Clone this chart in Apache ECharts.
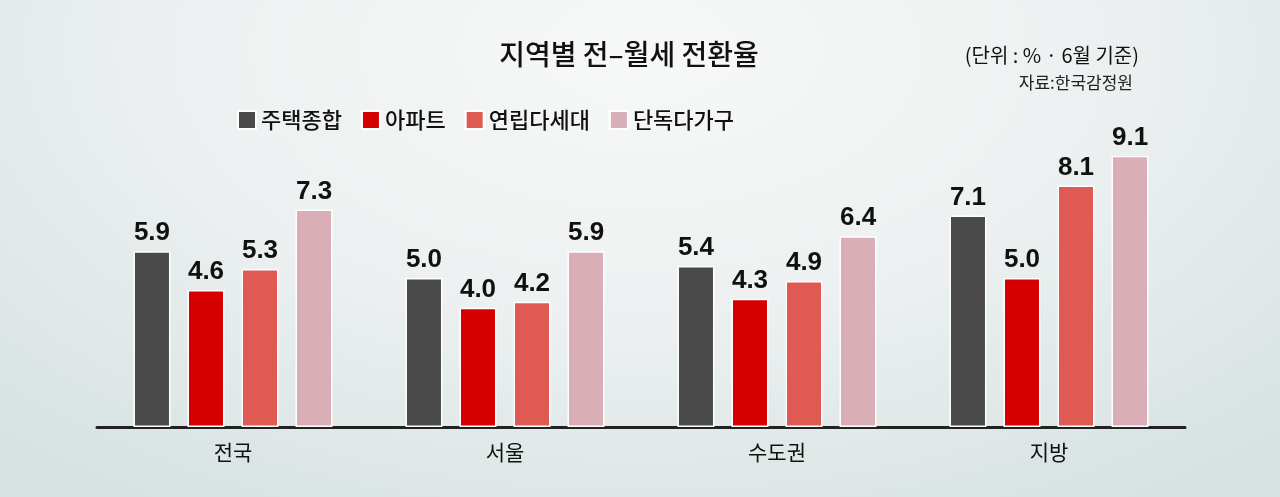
<!DOCTYPE html>
<html><head><meta charset="utf-8">
<script src="https://cdn.jsdelivr.net/npm/echarts@6/dist/echarts.min.js"></script>
<style>
html,body{margin:0;padding:0;}
#c{width:1280px;height:497px;background:radial-gradient(ellipse 75% 110% at 50% 10%, #f7f8f8 0%, #eef1f1 45%, #d6e1e1 100%);}
</style></head>
<body><div id="c"></div>
<script>
const categories = ['전국', '서울', '수도권', '지방'];
const seriesNames = ['주택종합', '아파트', '연립다세대', '단독다가구'];
const housing = [5.9, 5.0, 5.4, 7.1];
const apartment = [4.6, 4.0, 4.3, 5.0];
const rowhouse = [5.3, 4.2, 4.9, 8.1];
const detached = [7.3, 5.9, 6.4, 9.1];
const colors = ['#4a4a4a', '#d70000', '#e05a54', '#d9aeb7'];
const values = [housing, apartment, rowhouse, detached];
const FONT = '"Noto Sans CJK KR", "Noto Sans", sans-serif';

const chart = echarts.init(document.getElementById('c'), null, {renderer: 'canvas'});
chart.setOption({
  backgroundColor: 'transparent',
  animation: false,
  title: [
    {text: '지역별 전–월세 전환율', left: 624, top: 35, textAlign: 'center',
     textStyle: {fontFamily: FONT, fontSize: 28, fontWeight: 500, color: '#111'}},
    {text: '(단위 : % · 6월 기준)', left: 1134, top: 40, textAlign: 'right',
     textStyle: {fontFamily: FONT, fontSize: 20, fontWeight: 400, color: '#111'}},
    {text: '자료:한국감정원', left: 1128, top: 69, textAlign: 'right',
     textStyle: {fontFamily: FONT, fontSize: 17, fontWeight: 400, color: '#222'}}
  ],
  legend: {
    left: 232, top: 104, itemWidth: 18, itemHeight: 18, itemGap: 19,
    icon: 'rect',
    textStyle: {fontFamily: FONT, fontSize: 22, fontWeight: 500, color: '#111', padding: [0,0,0,0]},
    data: seriesNames
  },
  grid: {left: 97, right: 95, top: 129, bottom: 70},
  xAxis: {
    type: 'category', data: categories,
    axisLine: {lineStyle: {color: '#222', width: 3}},
    axisTick: {show: false},
    axisLabel: {fontFamily: FONT, fontSize: 21, color: '#111', margin: 15}
  },
  yAxis: {type: 'value', min: 0, max: 10, show: false, splitLine: {show: false}},
  series: seriesNames.map((n, i) => ({
    name: n, type: 'bar', data: values[i], barWidth: 37, barGap: '46%',
    itemStyle: {color: colors[i], borderColor: '#ffffff', borderWidth: 1.5},
    label: {show: true, position: 'top', distance: 5, formatter: p => p.value.toFixed(1),
      fontFamily: '"Liberation Sans", Arial, sans-serif', fontWeight: 'bold', fontSize: 26, color: '#111'}
  }))
});
</script></body></html>
